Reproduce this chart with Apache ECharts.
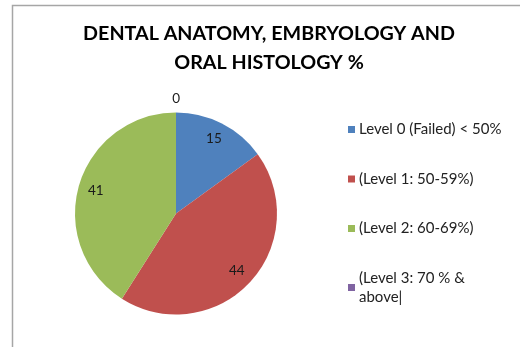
<!DOCTYPE html>
<html>
<head>
<meta charset="utf-8">
<script src="https://cdn.jsdelivr.net/npm/echarts@6/dist/echarts.min.js"></script>
<style>
html,body{margin:0;padding:0;background:#fff;overflow:hidden;}
#chart{width:520px;height:347px;}
</style>
</head>
<body>
<div id="chart"></div>
<script>
const titleText = 'DENTAL ANATOMY, EMBRYOLOGY AND\nORAL HISTOLOGY %';
const categories = ['Level 0 (Failed) < 50%', '(Level 1: 50-59%)', '(Level 2: 60-69%)', '(Level 3: 70 % &\nabove|'];
const values = [15, 44, 41, 0];
const colors = ['#4F81BD', '#C0504D', '#9BBB59', '#8064A2'];

const chart = echarts.init(document.getElementById('chart'), null, {renderer: 'canvas'});

const mainData = categories.map((c, i) => ({name: c, value: values[i], itemStyle: {color: colors[i]}}));
const labelData = categories.map((c, i) => {
  const d = {name: c, value: values[i]};
  if (values[i] === 0) {
    d.label = {position: 'outside', distanceToLabelLine: -4};
    d.labelLine = {show: false, length: 14, length2: 0};
  }
  return d;
});

const option = {
  backgroundColor: '#fff',
  animation: false,
  graphic: [{
    type: 'polyline', silent: true, z: -1,
    shape: {points: [[12.5, 600], [12.5, 5.5], [900, 5.5]]},
    style: {fill: null, stroke: '#a6a6a6', lineWidth: 1.5}
  }],
  title: {
    text: titleText,
    left: 264, top: 14, textAlign: 'center',
    textStyle: {fontFamily: 'Lato', fontWeight: 'bold', fontSize: 19.7, lineHeight: 29, color: '#000'}
  },
  legend: {
    orient: 'vertical',
    left: 343, top: 115,
    itemWidth: 7, itemHeight: 7, itemGap: 30.5,
    icon: 'rect',
    selectedMode: false,
    data: categories.map((c, i) => ({name: c, itemStyle: {color: colors[i]}})),
    textStyle: {fontFamily: 'Lato', fontSize: 15, lineHeight: 19, color: '#222', padding: [0, 0, 0, -1]}
  },
  series: [{
    type: 'pie',
    center: [176, 213.5],
    radius: 101,
    startAngle: 90,
    clockwise: true,
    avoidLabelOverlap: false,
    label: {show: false},
    labelLine: {show: false},
    itemStyle: {borderWidth: 0},
    emphasis: {disabled: true},
    data: mainData
  }, {
    type: 'pie',
    center: [176, 213.5],
    radius: [60, 101],
    startAngle: 90,
    clockwise: true,
    silent: true,
    avoidLabelOverlap: false,
    itemStyle: {color: 'rgba(0,0,0,0)', borderWidth: 0},
    label: {show: true, position: 'inside', formatter: '{c}', fontFamily: 'Lato', fontSize: 13.5, color: '#1a1a1a'},
    labelLine: {show: false},
    emphasis: {disabled: true},
    legendHoverLink: false,
    data: labelData
  }]
};
chart.setOption(option);
</script>
</body>
</html>
